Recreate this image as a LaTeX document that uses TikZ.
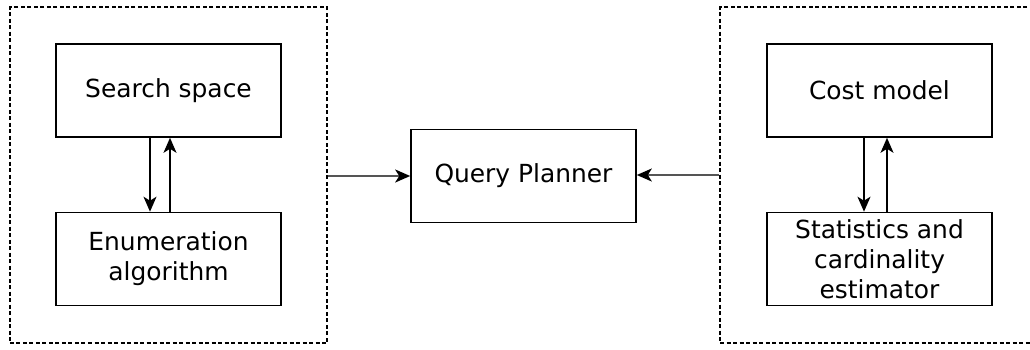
\documentclass[tikz,border=0pt]{standalone}
\usepackage{fontspec}
\setmainfont{DejaVu Sans}
\usetikzlibrary{arrows.meta}
\begin{document}
\begin{tikzpicture}[x=1bp,y=-1bp,
  box/.style={draw=black,line width=1.6bp,minimum width=225bp,minimum height=93bp,inner sep=0pt,align=center,font=\fontsize{25}{30}\selectfont},
  group/.style={draw=black,line width=1.3bp,dash pattern=on 4bp off 2.5bp,inner sep=0pt},
  tip/.style={-{Stealth[length=15bp,width=13bp,inset=4bp,color=black,fill=black]}},
  link/.style={line width=1.5bp,tip},
  grey link/.style={draw={rgb,255:red,85;green,85;blue,85},line width=2bp,tip}]
\useasboundingbox (0,0) rectangle (1030,349);
\begin{scope}
\clip (0,0) rectangle (1030,349);
\node[group,minimum width=317bp,minimum height=336bp] (lg) at (168.5,175) {};
\node[group,minimum width=317bp,minimum height=336bp] (rg) at (878.5,175) {};
\end{scope}
\node[box] (ss) at (168.5,90.5) {Search space};
\node[box] (en) at (168.5,259) {Enumeration\\algorithm};
\node[box] (cm) at (879.5,90.5) {Cost model};
\node[box] (st) at (879.5,259) {Statistics and\\cardinality\\estimator};
\node[box] (qp) at (523.5,176) {Query Planner};
\draw[link] (ss.south -| 150,0) -- (en.north -| 150,0);
\draw[link] (en.north -| 170,0) -- (ss.south -| 170,0);
\draw[link] (cm.south -| 864,0) -- (st.north -| 864,0);
\draw[link] (st.north -| 887,0) -- (cm.south -| 887,0);
\draw[grey link] (lg.east |- qp.west) -- (qp.west);
\draw[grey link] (rg.west |- 0,175) -- (qp.east |- 0,175);
\end{tikzpicture}
\end{document}
